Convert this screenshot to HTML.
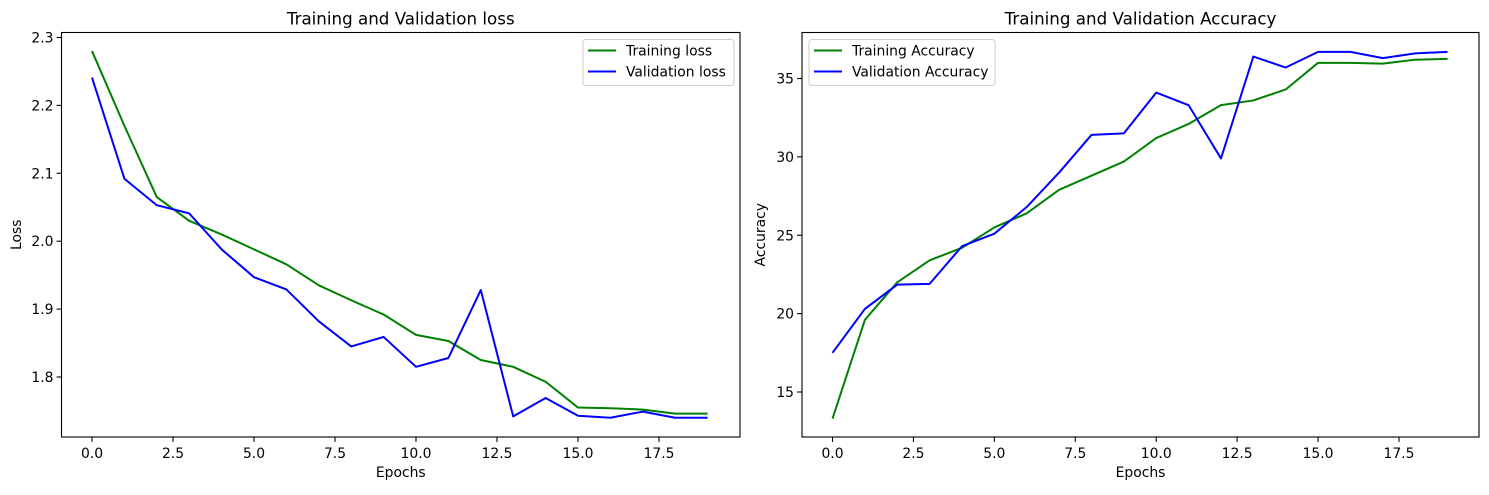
<!DOCTYPE html>
<html><head><meta charset="utf-8"><style>
body{margin:0;background:#fff;font-family:"Liberation Sans","DejaVu Sans",sans-serif;}
svg text{font-family:"DejaVu Sans","Liberation Sans",sans-serif;fill:#000;}
</style></head><body>
<svg id="c" width="1489" height="490"></svg>
<script>
const epochs=[0,1,2,3,4,5,6,7,8,9,10,11,12,13,14,15,16,17,18,19];
const trainLoss=[2.28,2.17,2.065,2.03,2.01,1.988,1.966,1.935,1.913,1.892,1.862,1.853,1.825,1.815,1.793,1.755,1.754,1.752,1.746,1.746];
const valLoss=[2.241,2.092,2.053,2.041,1.988,1.947,1.929,1.882,1.845,1.859,1.815,1.828,1.928,1.742,1.769,1.743,1.740,1.749,1.740,1.740];
const trainAcc=[13.3,19.6,22.0,23.4,24.2,25.5,26.4,27.9,28.8,29.7,31.2,32.1,33.3,33.6,34.3,36.0,36.0,35.95,36.2,36.25];
const valAcc=[17.5,20.3,21.85,21.9,24.3,25.1,26.8,29.0,31.4,31.5,34.1,33.3,29.9,36.4,35.7,36.7,36.7,36.3,36.6,36.7];
const xTicks=[0,2.5,5,7.5,10,12.5,15,17.5];
const xTickLabels=["0.0","2.5","5.0","7.5","10.0","12.5","15.0","17.5"];
const lossTicks=[1.8,1.9,2.0,2.1,2.2,2.3];
const lossTickLabels=["1.8","1.9","2.0","2.1","2.2","2.3"];
const accTicks=[15,20,25,30,35];
const accTickLabels=["15","20","25","30","35"];

const svg=document.getElementById('c');
const NS='http://www.w3.org/2000/svg';
function mk(tag,attrs,parent){const e=document.createElementNS(NS,tag);for(const k in attrs)e.setAttribute(k,attrs[k]);(parent||svg).appendChild(e);return e;}
const FS=13.9, TFS=16.7;
function panel(o){
  const g=mk('g',{});
  
  
  const sx=v=>o.x0+(v-o.xmin)*(o.x1-o.x0)/(o.xmax-o.xmin);
  const sy=v=>o.y0-(v-o.ymin)*(o.y0-o.y1)/(o.ymax-o.ymin);
  o.series.forEach(s=>{
    const p=mk('polyline',{points:s.data.map((v,i)=>sx(epochs[i])+','+sy(v)).join(' '),fill:'none',stroke:s.color,'stroke-width':2,'stroke-linejoin':'round'},g);
    
    
  });
  const r=mk('rect',{x:o.L,y:o.T,width:o.R-o.L,height:o.B-o.T,fill:'none',stroke:'#000','stroke-width':1.1},g);
  
  
  xTicks.forEach((t,i)=>{
    const x=sx(t);
    mk('line',{x1:x,x2:x,y1:o.B,y2:o.B+4.9,stroke:'#000','stroke-width':1.1},g);
    const tx=mk('text',{x:x,y:o.B+21,'text-anchor':'middle','font-size':FS},g);tx.textContent=xTickLabels[i];
    
    
  });
  o.yt.forEach((t,i)=>{
    const y=sy(t);
    mk('line',{x1:o.L-4.9,x2:o.L,y1:y,y2:y,stroke:'#000','stroke-width':1.1},g);
    const tx=mk('text',{x:o.L-8,y:y+5,'text-anchor':'end','font-size':FS},g);tx.textContent=o.ytl[i];
    
    
  });
  const ti=mk('text',{x:(o.L+o.R)/2,y:o.T-8,'text-anchor':'middle','font-size':TFS},g);ti.textContent=o.title;
  
  
  const xl=mk('text',{x:(o.L+o.R)/2,y:o.B+40,'text-anchor':'middle','font-size':FS},g);xl.textContent='Epochs';
  
  
  const yl=mk('text',{x:0,y:0,'text-anchor':'middle','font-size':FS,transform:`translate(${o.ylx},${(o.T+o.B)/2}) rotate(-90)`},g);yl.textContent=o.ylabel;
  
  
  const lg=mk('g',{},g);
  
  
  mk('rect',{x:o.lx,y:o.T+7,width:o.lw,height:46,rx:3,fill:'#fff',stroke:'#ccc','stroke-width':1},lg);
  o.series.forEach((s,i)=>{
    const y=o.T+18+i*21;
    mk('line',{x1:o.lx+5,x2:o.lx+33,y1:y,y2:y,stroke:s.color,'stroke-width':2},lg);
    const t=mk('text',{x:o.lx+43,y:y+5,'font-size':FS},lg);t.textContent=s.label;
    
    
  });
}
panel({name:'loss-chart',L:61.5,R:740,T:32.5,B:437,x0:92,x1:659,xmin:0,xmax:17.5,y0:377,y1:37.5,ymin:1.8,ymax:2.3,
  yt:lossTicks,ytl:lossTickLabels,title:'Training and Validation loss',ylabel:'Loss',ylx:21,lx:583,lw:151,
  series:[{id:'training-loss-line',data:trainLoss,color:'#008000',label:'Training loss'},{id:'validation-loss-line',data:valLoss,color:'#0000ff',label:'Validation loss'}]});
panel({name:'accuracy-chart',L:802,R:1479,T:32.5,B:437,x0:832.5,x1:1399,xmin:0,xmax:17.5,y0:392,y1:78.5,ymin:15,ymax:35,
  yt:accTicks,ytl:accTickLabels,title:'Training and Validation Accuracy',ylabel:'Accuracy',ylx:765,lx:809,lw:186,
  series:[{id:'training-accuracy-line',data:trainAcc,color:'#008000',label:'Training Accuracy'},{id:'validation-accuracy-line',data:valAcc,color:'#0000ff',label:'Validation Accuracy'}]});
</script>
</body></html>
